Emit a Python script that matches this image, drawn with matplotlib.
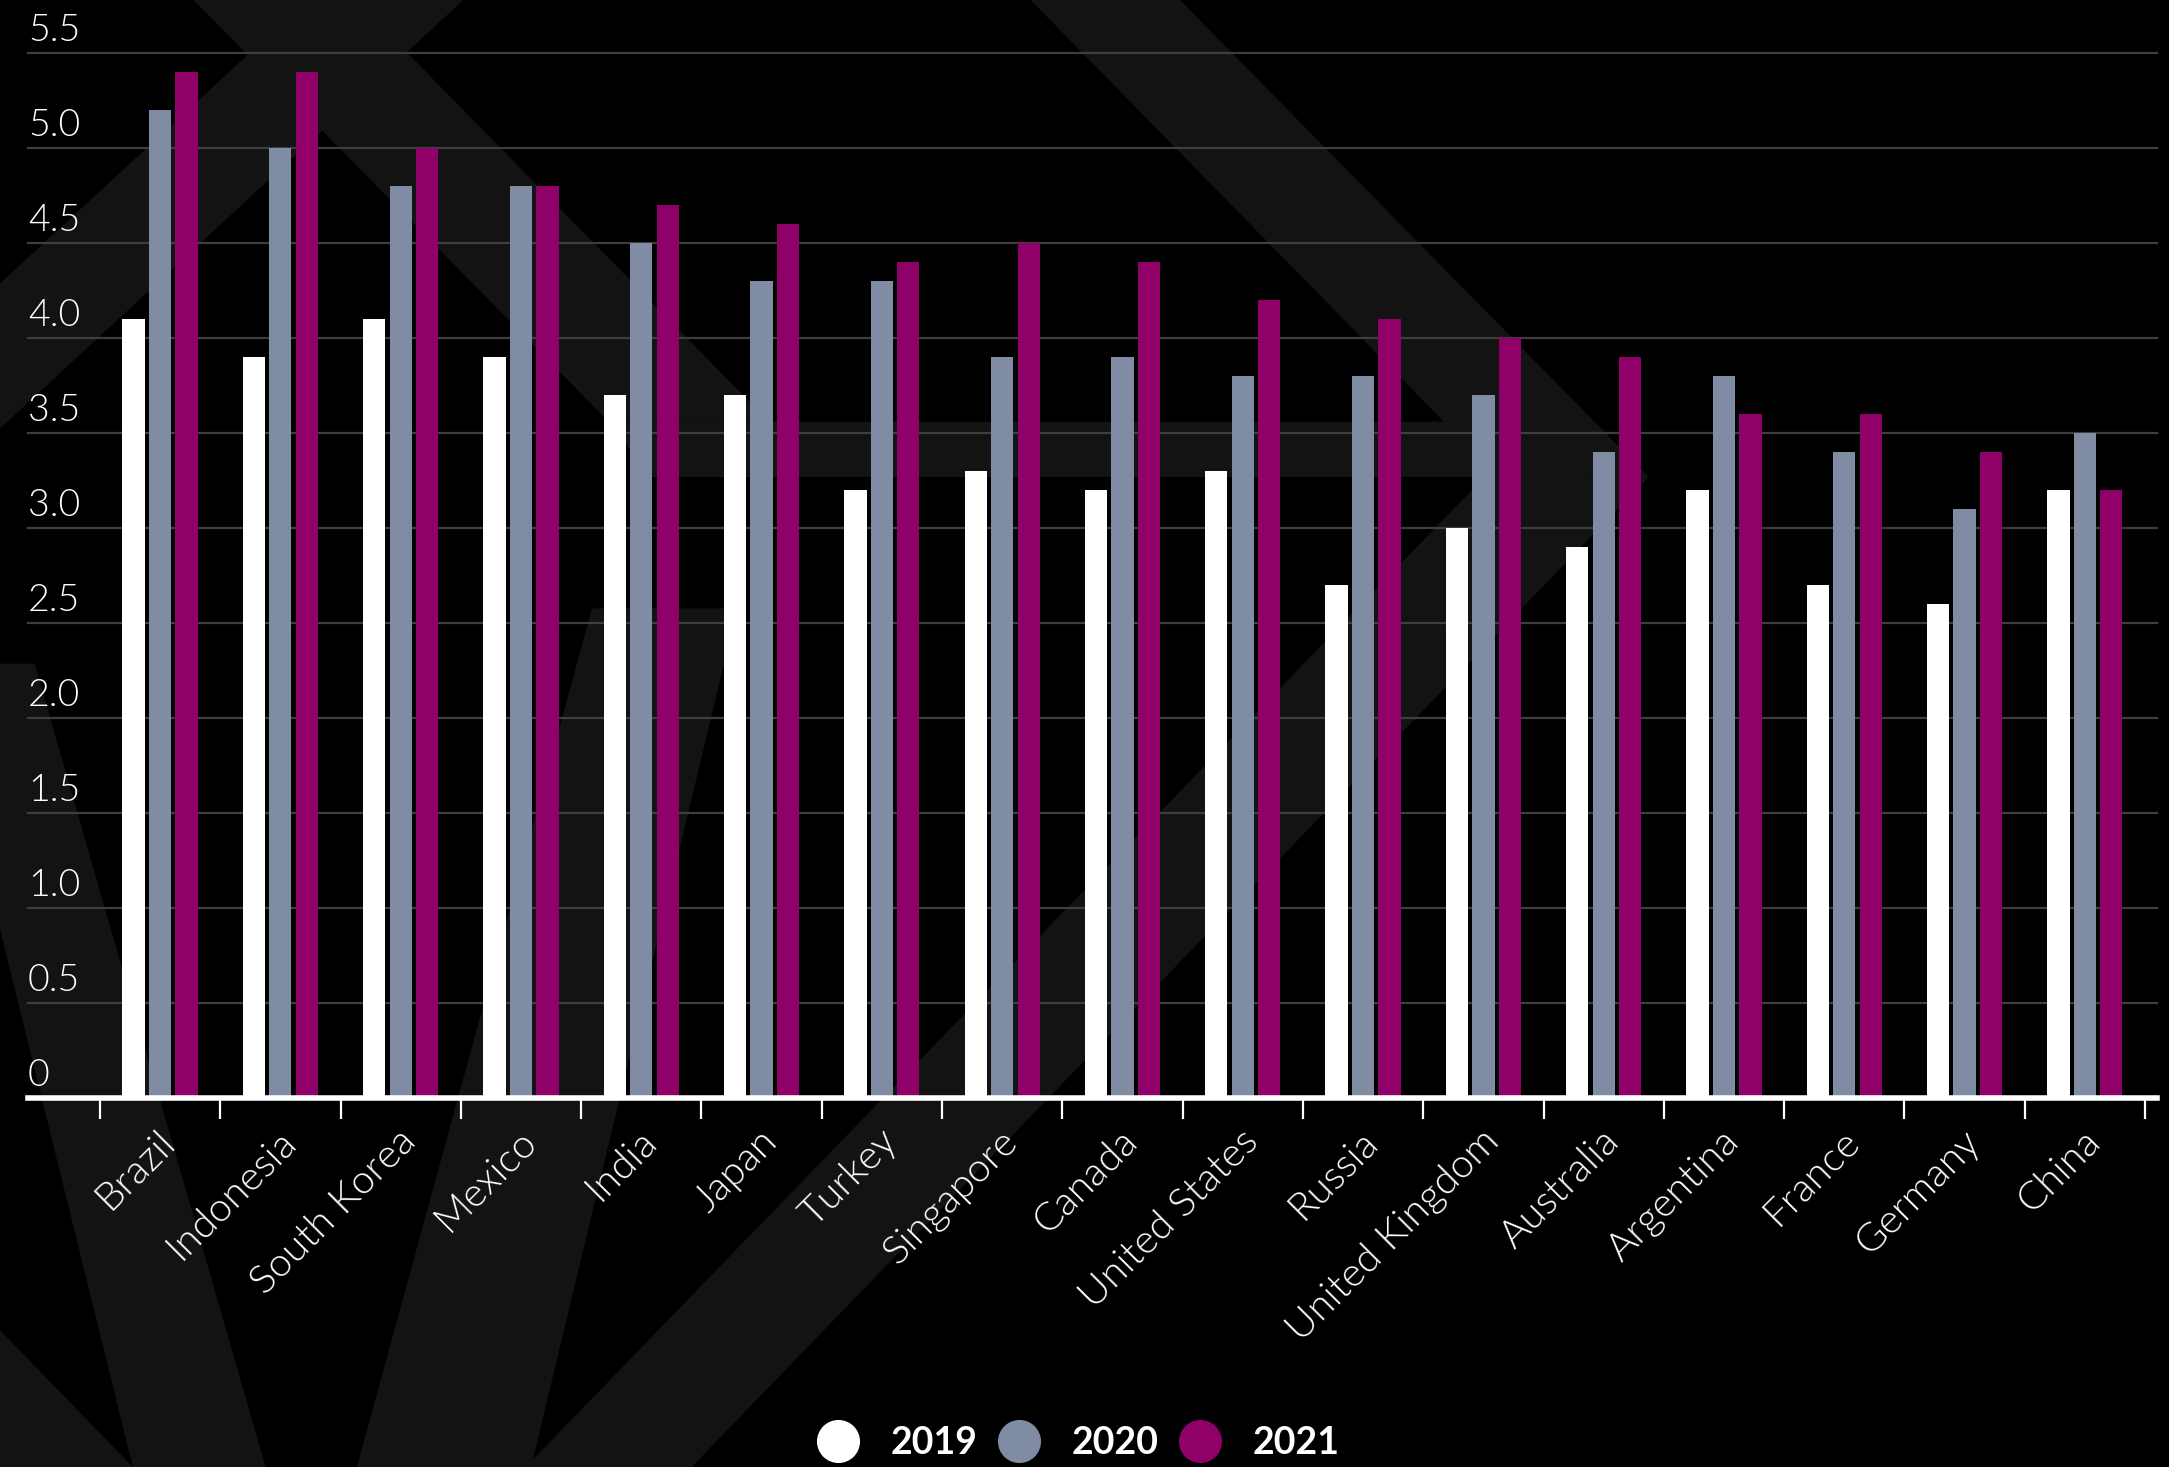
import matplotlib
matplotlib.use("Agg")
import numpy as np
import matplotlib.pyplot as plt
from matplotlib.patches import Polygon
from matplotlib.lines import Line2D
import matplotlib.transforms as mtransforms

# data
countries = ["Brazil", "Indonesia", "South Korea", "Mexico", "India", "Japan", "Turkey",
             "Singapore", "Canada", "United States", "Russia", "United Kingdom",
             "Australia", "Argentina", "France", "Germany", "China"]
v2019 = [4.1, 3.9, 4.1, 3.9, 3.7, 3.7, 3.2, 3.3, 3.2, 3.3, 2.7, 3.0, 2.9, 3.2, 2.7, 2.6, 3.2]
v2020 = [5.2, 5.0, 4.8, 4.8, 4.5, 4.3, 4.3, 3.9, 3.9, 3.8, 3.8, 3.7, 3.4, 3.8, 3.4, 3.1, 3.5]
v2021 = [5.4, 5.4, 5.0, 4.8, 4.7, 4.6, 4.4, 4.5, 4.4, 4.2, 4.1, 4.0, 3.9, 3.6, 3.6, 3.4, 3.2]
years = ["2019", "2020", "2021"]
ytick_vals = [0, 0.5, 1.0, 1.5, 2.0, 2.5, 3.0, 3.5, 4.0, 4.5, 5.0, 5.5]
ytick_labels = ["0", "0.5", "1.0", "1.5", "2.0", "2.5", "3.0", "3.5", "4.0", "4.5", "5.0", "5.5"]

colors = ["#ffffff", "#7f8ca4", "#8f0068"]
font = "Lato"

fig = plt.figure(figsize=(21.69, 14.67), dpi=100, facecolor="black")

# faint background shapes (in 1568x1061 reference pixels)
W, H = 1568.0, 1061.0
shapes = [
    [(140, 0), (257, 0), (556, 305), (440, 305)],
    [(222, 0), (335, 0), (0, 310), (0, 205)],
    [(745, 0), (853, 0), (1192, 345), (1078, 340)],
    [(440, 305), (1044, 305), (1150, 345), (470, 345)],
    [(1192, 345), (1078, 340), (380, 1061), (500, 1061)],
    [(0, 480), (25, 480), (192, 1061), (96, 1061), (0, 672)],
    [(0, 962), (96, 1061), (0, 1061)],
    [(428, 440), (533, 440), (384, 1061), (258, 1061)],
]
for pts in shapes:
    fig.patches.append(Polygon([(x / W, 1 - y / H) for x, y in pts], closed=True,
                               transform=fig.transFigure, facecolor="#131313",
                               edgecolor="none", zorder=-5))

ax = fig.add_axes([0.0129, 0.2515, 0.9816, 0.7124])
ax.set_facecolor("none")
ax.set_zorder(1)

x = np.arange(len(countries))
w = 0.185
for i, (vals, c) in enumerate(zip([v2019, v2020, v2021], colors)):
    ax.bar(x + (i - 1) * 0.22, vals, width=w, color=c, zorder=3, label=years[i])

ax.set_xlim(-1.098, 16.6)
ax.set_ylim(0, 5.5)

# grid
for v in ytick_vals[1:]:
    ax.axhline(v, color="#3e3e3e", lw=1.6, zorder=1, clip_on=False)
ax.set_yticks([])

# y labels sit above the gridlines
trans = mtransforms.blended_transform_factory(ax.transAxes, ax.transData)
for v, lab in zip(ytick_vals, ytick_labels):
    ax.text(0.0, v + 0.063, lab, transform=trans, color="white", fontsize=27,
            family=font, fontweight=300, ha="left", va="baseline")

for s in ["top", "right", "left"]:
    ax.spines[s].set_visible(False)
ax.spines["bottom"].set_color("white")
ax.spines["bottom"].set_linewidth(4)
ax.spines["bottom"].set_zorder(4)

ax.set_xticks(np.arange(-0.5, len(countries), 1.0))
ax.set_xticklabels([])
ax.tick_params(axis="x", colors="white", length=15, width=1.6, direction="out")

# rotated category labels
tx = mtransforms.blended_transform_factory(ax.transData, ax.transAxes)
for i, name in enumerate(countries):
    ax.text(i + 0.08, -0.036, name, transform=tx, rotation=45, rotation_mode="anchor",
            ha="right", va="center", color="white", fontsize=29, family=font,
            fontweight=300)

handles = [Line2D([0], [0], marker="o", linestyle="none", markersize=30,
                  markerfacecolor=c, markeredgecolor=c) for c in colors]
leg = fig.legend(handles, years, loc="center", bbox_to_anchor=(0.4985, 0.0164), ncol=3,
                 frameon=False, handlelength=0.8, handletextpad=1.0, columnspacing=0.7,
                 prop={"family": font, "weight": "bold", "size": 27})
for t in leg.get_texts():
    t.set_color("white")

fig.savefig("out.png", dpi=100, facecolor="black")
